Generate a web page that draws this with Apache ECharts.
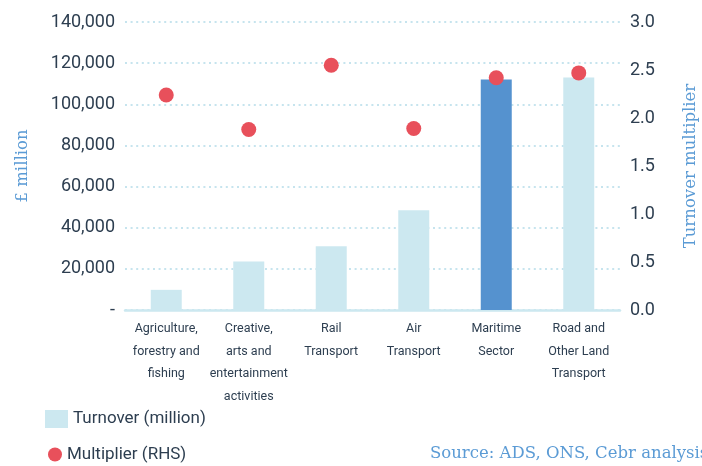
<!DOCTYPE html>
<html>
<head>
<meta charset="utf-8">
<script src="https://cdn.jsdelivr.net/npm/echarts@6/dist/echarts.min.js"></script>
<style>
  html, body { margin: 0; padding: 0; background: #ffffff; }
  #chart { width: 702px; height: 466px; }
</style>
</head>
<body>
<div id="chart"></div>
<script>
// Sectors compared
const categories = [
  'Agriculture,\nforestry and\nfishing',
  'Creative,\narts and\nentertainment\nactivities',
  'Rail\nTransport',
  'Air\nTransport',
  'Maritime\nSector',
  'Road and\nOther Land\nTransport'
];
// Turnover, £ million
const turnover = [9800, 23600, 31000, 48500, 112000, 113000];
// Turnover multiplier (right-hand scale)
const multiplier = [2.24, 1.88, 2.55, 1.89, 2.42, 2.47];
const highlightIndex = 4;

const barColor = '#cce8f0';
const highlightColor = '#5592cf';
const dotColor = '#e8505b';
const textColor = '#2d3e50';
const nameColor = '#5b9bd5';
const gridColor = '#c6e4ee';
const serif = '"DejaVu Serif", serif';

const chart = echarts.init(document.getElementById('chart'), null, { renderer: 'canvas' });

chart.setOption({
  animation: false,
  grid: { left: 125, right: 82, top: 22, bottom: 156, outerBoundsMode: 'none' },
  legend: [
    {
      left: 40, top: 405, orient: 'vertical',
      itemWidth: 23, itemHeight: 18, itemGap: 0,
      data: [{ name: 'Turnover (million)', icon: 'rect' }],
      textStyle: { color: textColor, fontSize: 17, fontFamily: 'Roboto' },
      selectedMode: false
    },
    {
      left: 43, top: 441, orient: 'vertical',
      itemWidth: 14, itemHeight: 14,
      data: [{ name: 'Multiplier (RHS)', icon: 'circle' }],
      textStyle: { color: textColor, fontSize: 17, fontFamily: 'Roboto' },
      selectedMode: false
    }
  ],
  graphic: [{
    type: 'text', left: 430, top: 445,
    style: { text: 'Source: ADS, ONS, Cebr analysis', fill: nameColor, font: '16.5px ' + serif }
  }],
  xAxis: {
    type: 'category',
    data: categories,
    axisLine: { lineStyle: { color: barColor, width: 2.5 } },
    axisTick: { show: false },
    axisLabel: {
      color: textColor, fontSize: 12.5, fontFamily: 'Roboto', lineHeight: 22.5,
      margin: 8, interval: 0
    }
  },
  yAxis: [
    {
      type: 'value', min: 0, max: 140000, interval: 20000,
      name: '£ million', nameLocation: 'middle', nameGap: 94, nameRotate: 90,
      nameTextStyle: { color: nameColor, fontSize: 16.5, fontFamily: serif },
      axisLine: { show: false }, axisTick: { show: false },
      axisLabel: {
        color: textColor, fontSize: 18, fontFamily: 'Roboto', margin: 10,
        formatter: v => v === 0 ? '-' : v.toLocaleString('en-GB')
      },
      splitLine: {
        show: true,
        lineStyle: { color: gridColor, width: 2, type: [2, 3.6] }
      }
    },
    {
      type: 'value', min: 0, max: 3, interval: 0.5,
      name: 'Turnover multiplier', nameLocation: 'middle', nameGap: 62, nameRotate: 90,
      nameTextStyle: { color: nameColor, fontSize: 16.5, fontFamily: serif },
      axisLine: { show: false }, axisTick: { show: false },
      axisLabel: {
        color: textColor, fontSize: 18, fontFamily: 'Roboto', margin: 10,
        formatter: v => v.toFixed(1)
      },
      splitLine: { show: false }
    }
  ],
  series: [
    {
      name: 'Turnover (million)',
      type: 'bar',
      barWidth: 31,
      itemStyle: { color: barColor },
      data: turnover.map((v, i) => i === highlightIndex
        ? { value: v, itemStyle: { color: highlightColor } }
        : v),
      z: 2
    },
    {
      name: 'Multiplier (RHS)',
      type: 'scatter',
      yAxisIndex: 1,
      symbol: 'circle',
      symbolSize: 15,
      itemStyle: { color: dotColor, opacity: 1 },
      data: multiplier,
      z: 3
    }
  ]
});
</script>
</body>
</html>
